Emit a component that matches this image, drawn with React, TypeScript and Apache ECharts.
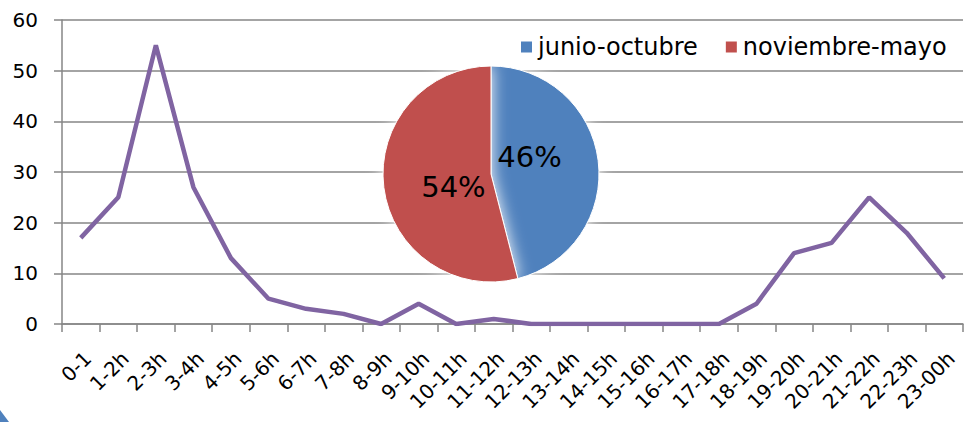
import React, { useEffect, useRef } from "react";
import * as echarts from "echarts";

const categories = ["0-1", "1-2h", "2-3h", "3-4h", "4-5h", "5-6h", "6-7h", "7-8h", "8-9h", "9-10h", "10-11h", "11-12h", "12-13h", "13-14h", "14-15h", "15-16h", "16-17h", "17-18h", "18-19h", "19-20h", "20-21h", "21-22h", "22-23h", "23-00h"];
const lineValues = [17, 25, 55, 27, 13, 5, 3, 2, 0, 4, 0, 1, 0, 0, 0, 0, 0, 0, 4, 14, 16, 25, 18, 9];
const pieNames = ["junio-octubre", "noviembre-mayo"];
const pieValues = [46, 54];
const pieColors = ["#4F81BD", "#C0504D"];
const FONT = "DejaVu Sans";

export default function App() {
  const ref = useRef<HTMLDivElement>(null);
  useEffect(() => {
    if (!ref.current) return;
    const chart = echarts.init(ref.current, null, { renderer: "svg" });
    const labelOffsets = [[-18, -10], [19, 6]];
    chart.setOption({
      animation: false,
      backgroundColor: "#ffffff",
      textStyle: { fontFamily: FONT },
      grid: { left: 62, right: 2, top: 20, bottom: 98, containLabel: false },
      legend: {
        data: pieNames,
        left: 519,
        top: 33,
        itemWidth: 13,
        itemHeight: 13,
        itemGap: 26,
        icon: "rect",
        textStyle: { fontSize: 24, color: "#000", fontFamily: FONT, padding: [0, 0, 0, 0] },
        backgroundColor: "#ffffff",
        padding: [2, 0, 2, 0],
      },
      xAxis: {
        type: "category",
        data: categories,
        boundaryGap: true,
        axisLine: { lineStyle: { color: "#868686", width: 1.5 } },
        axisTick: { show: true, interval: 0, length: 8, lineStyle: { color: "#868686", width: 1.5 } },
        axisLabel: { interval: 0, rotate: 45, fontSize: 20, color: "#000", fontFamily: FONT, margin: 24, verticalAlign: "top" },
      },
      yAxis: {
        type: "value",
        min: 0,
        max: 60,
        interval: 10,
        axisLine: { show: true, lineStyle: { color: "#868686", width: 1.5 } },
        axisTick: { show: true, length: 8, lineStyle: { color: "#868686", width: 1.5 } },
        splitLine: { show: true, lineStyle: { color: "#868686", width: 1.5 } },
        axisLabel: { fontSize: 20, color: "#000", fontFamily: FONT, margin: 24 },
      },
      series: [
        {
          type: "line",
          data: lineValues,
          symbol: "none",
          lineStyle: { color: "#8064A2", width: 4.5 },
          itemStyle: { color: "#8064A2" },
          z: 2,
        },
        {
          type: "pie",
          center: [491, 174],
          radius: [0, 108],
          startAngle: 90,
          clockwise: true,
          z: 5,
          itemStyle: {
            borderColor: "#ffffff",
            borderWidth: 1,
            shadowBlur: 16,
            shadowColor: "rgba(255,255,255,1)",
          },
          label: {
            show: true,
            position: "inside",
            formatter: "{d}%",
            fontSize: 29,
            color: "#000",
            fontFamily: FONT,
          },
          labelLine: { show: false },
          emphasis: { disabled: true },
          data: pieNames.map((n, i) => ({
            name: n,
            value: pieValues[i],
            itemStyle: { color: pieColors[i] },
            label: { offset: labelOffsets[i] },
          })),
        },
      ],
      graphic: [
        {
          type: "polygon",
          shape: { points: [[0, 410], [0, 422], [9, 422]] },
          style: { fill: "#4F81BD" },
          z: 10,
        },
      ],
    });
    return () => chart.dispose();
  }, []);
  return <div ref={ref} style={{ position: "fixed", left: 0, top: 0, width: 965, height: 422 }} />;
}
